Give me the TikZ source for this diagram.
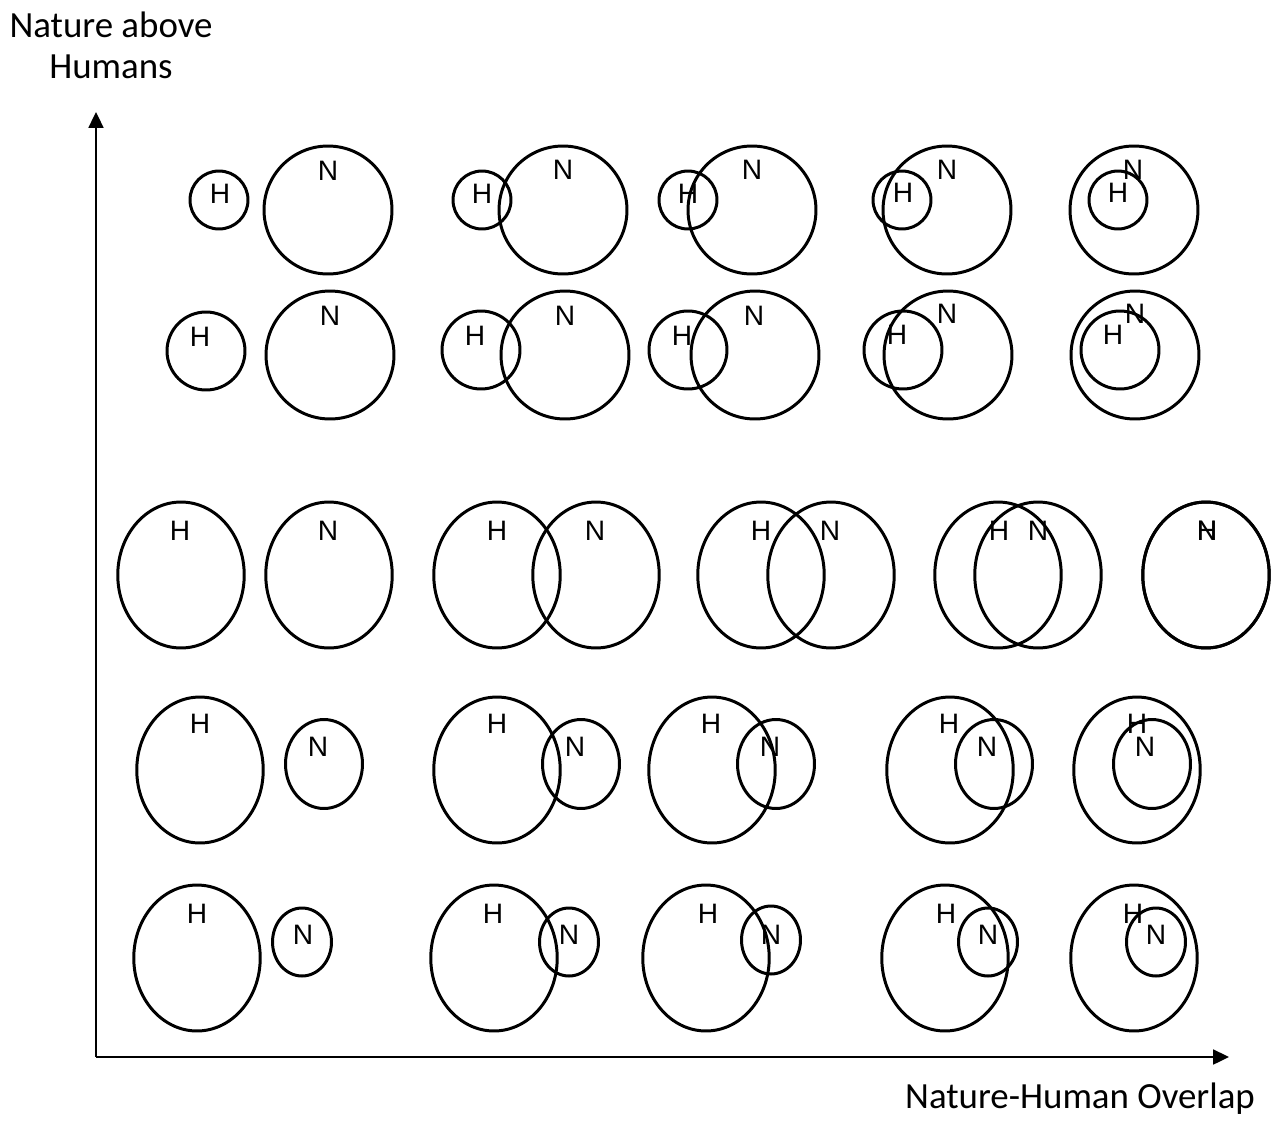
\documentclass[tikz,border=0pt]{standalone}
\usepackage{fontspec}
\setmainfont{Carlito}
\newfontfamily\vennfont{Liberation Sans}
\usepackage{tikz}
\usetikzlibrary{shapes.geometric, arrows.meta}

\begin{document}
\begin{tikzpicture}[x=0.02cm, y=-0.02cm, >={Triangle[length=9pt,width=8.5pt]},
    every node/.style={inner sep=0pt, outer sep=0pt},
    venn/.style={ellipse, draw, line width=1.7pt},
    hsmall/.style={venn, minimum width=1.16cm, minimum height=1.16cm},
    hmid/.style={venn, minimum width=1.56cm, minimum height=1.56cm},
    nbig/.style={venn, minimum width=2.56cm, minimum height=2.56cm},
    tall/.style={venn, minimum width=2.53cm, minimum height=2.92cm},
    nmid/.style={venn, minimum width=1.54cm, minimum height=1.78cm},
    nsmall/.style={venn, minimum width=1.18cm, minimum height=1.36cm},
    tag/.style={font=\vennfont\fontsize{16}{16}\selectfont},
    axis/.style={->, line width=1.1pt},
    axislabel/.style={font=\fontsize{21}{23.5}\selectfont, align=center}]
    \useasboundingbox (0,0) rectangle (1272,1120);

    % axes
    \coordinate (o) at (96,1057);
    \coordinate (ytip) at (96,112);
    \coordinate (xtip) at (1229,1057);
    \draw[axis] (o) -- (ytip);
    \draw[axis] (o) -- (xtip);
    \node[axislabel] (ylab) at (111,45) {Nature above\\Humans};
    \node[axislabel, anchor=base] (xlab) at (1080,1108) {Nature-Human Overlap};

    % row 1: small humans, big nature
    \node[hsmall] (h11) at (219,200) {};
    \node[nbig] (n11) at (328,210) {};
    \node[tag] (lh11) at (220,194) {H};
    \node[tag] (ln11) at (328,171) {N};
    \node[hsmall] (h12) at (482,200) {};
    \node[nbig] (n12) at (563,210) {};
    \node[tag] (lh12) at (482,194) {H};
    \node[tag] (ln12) at (563,170) {N};
    \node[hsmall] (h13) at (688,200) {};
    \node[nbig] (n13) at (752,210) {};
    \node[tag] (lh13) at (688,194) {H};
    \node[tag] (ln13) at (752,170) {N};
    \node[hsmall] (h14) at (902,200) {};
    \node[nbig] (n14) at (947,210) {};
    \node[tag] (lh14) at (903,193) {H};
    \node[tag] (ln14) at (947,170) {N};
    \node[hsmall] (h15) at (1118,200) {};
    \node[nbig] (n15) at (1134,210) {};
    \node[tag] (lh15) at (1118,193) {H};
    \node[tag] (ln15) at (1133,170) {N};

    % row 2
    \node[hmid] (h21) at (206,351) {};
    \node[nbig] (n21) at (330,355) {};
    \node[tag] (lh21) at (200,337) {H};
    \node[tag] (ln21) at (330,316) {N};
    \node[hmid] (h22) at (481,350) {};
    \node[nbig] (n22) at (565,355) {};
    \node[tag] (lh22) at (475,336) {H};
    \node[tag] (ln22) at (565,316) {N};
    \node[hmid] (h23) at (688,350) {};
    \node[nbig] (n23) at (755,355) {};
    \node[tag] (lh23) at (682,336) {H};
    \node[tag] (ln23) at (754,316) {N};
    \node[hmid] (h24) at (903,350) {};
    \node[nbig] (n24) at (948,355) {};
    \node[tag] (lh24) at (897,335) {H};
    \node[tag] (ln24) at (947,314) {N};
    \node[hmid] (h25) at (1120,350) {};
    \node[nbig] (n25) at (1135,355) {};
    \node[tag] (lh25) at (1113,335) {H};
    \node[tag] (ln25) at (1135,314) {N};

    % row 3: equal sizes
    \node[tall] (h31) at (181,575) {};
    \node[tall] (n31) at (329,575) {};
    \node[tag] (lh31) at (180,531) {H};
    \node[tag] (ln31) at (328,531) {N};
    \node[tall] (h32) at (497,575) {};
    \node[tall] (n32) at (596,575) {};
    \node[tag] (lh32) at (497,531) {H};
    \node[tag] (ln32) at (595,531) {N};
    \node[tall] (h33) at (761,575) {};
    \node[tall] (n33) at (831,575) {};
    \node[tag] (lh33) at (761,531) {H};
    \node[tag] (ln33) at (830,531) {N};
    \node[tall] (h34) at (998,575) {};
    \node[tall] (n34) at (1038,575) {};
    \node[tag] (lh34) at (999,531) {H};
    \node[tag] (ln34) at (1038,531) {N};
    \node[tall] (h35) at (1206,575) {};
    \node[tall] (n35) at (1206,575) {};
    \node[tag] (lh35) at (1207,531) {H};
    \node[tag] (ln35) at (1207,531) {N};

    % row 4: big humans, smaller nature
    \node[tall] (h41) at (200,770) {};
    \node[nmid] (n41) at (324,764) {};
    \node[tag] (lh41) at (200,724) {H};
    \node[tag] (ln41) at (318,747) {N};
    \node[tall] (h42) at (497,770) {};
    \node[nmid] (n42) at (581,764) {};
    \node[tag] (lh42) at (497,724) {H};
    \node[tag] (ln42) at (575,747) {N};
    \node[tall] (h43) at (712,770) {};
    \node[nmid] (n43) at (776,764) {};
    \node[tag] (lh43) at (711,724) {H};
    \node[tag] (ln43) at (770,747) {N};
    \node[tall] (h44) at (950,770) {};
    \node[nmid] (n44) at (994,764) {};
    \node[tag] (lh44) at (949,724) {H};
    \node[tag] (ln44) at (987,747) {N};
    \node[tall] (h45) at (1137,770) {};
    \node[nmid] (n45) at (1152,764) {};
    \node[tag] (lh45) at (1137,724) {H};
    \node[tag] (ln45) at (1145,747) {N};

    % row 5
    \node[tall] (h51) at (197,958) {};
    \node[nsmall] (n51) at (302,942) {};
    \node[tag] (lh51) at (197,914) {H};
    \node[tag] (ln51) at (303,935) {N};
    \node[tall] (h52) at (494,958) {};
    \node[nsmall] (n52) at (569,942) {};
    \node[tag] (lh52) at (493,914) {H};
    \node[tag] (ln52) at (569,935) {N};
    \node[tall] (h53) at (706,958) {};
    \node[nsmall] (n53) at (771,940) {};
    \node[tag] (lh53) at (708,914) {H};
    \node[tag] (ln53) at (771,935) {N};
    \node[tall] (h54) at (945,958) {};
    \node[nsmall] (n54) at (988,942) {};
    \node[tag] (lh54) at (946,914) {H};
    \node[tag] (ln54) at (988,935) {N};
    \node[tall] (h55) at (1134,958) {};
    \node[nsmall] (n55) at (1156,942) {};
    \node[tag] (lh55) at (1133,914) {H};
    \node[tag] (ln55) at (1156,935) {N};
\end{tikzpicture}
\end{document}
